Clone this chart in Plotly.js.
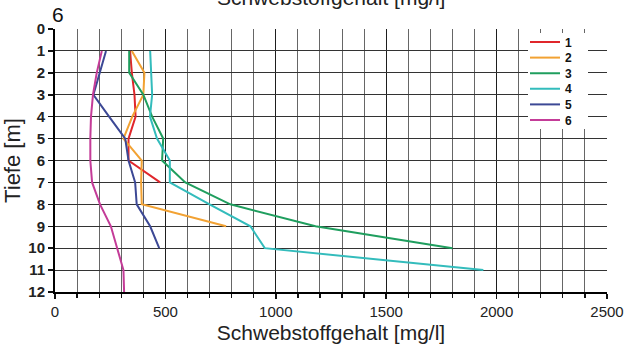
<!DOCTYPE html>
<html>
<head>
<meta charset="utf-8">
<script src="https://cdn.plot.ly/plotly-3.0.1.min.js"></script>
<style>html,body{margin:0;padding:0;background:#fff;}#chart{width:635px;height:345px;}</style>
</head>
<body>
<div id="chart"></div>
<script>
// Depth levels [m]
const depthLevels = [1, 2, 3, 4, 5, 6, 7, 8, 9, 10, 11, 12];
// Series names
const seriesNames = ["1", "2", "3", "4", "5", "6"];
// Suspended solids [mg/l] per depth level, starting at 1 m
const series1 = [340, 348, 360, 365, 333, 333, 476];
const series2 = [348, 405, 400, 350, 310, 393, 390, 393, 775];
const series3 = [336, 336, 400, 440, 490, 485, 590, 794, 1180, 1800];
const series4 = [431, 435, 440, 430, 462, 520, 520, 700, 885, 950, 1940];
const series5 = [231, 204, 174, 245, 318, 333, 363, 370, 431, 472];
const series6 = [212, 189, 172, 163, 160, 160, 168, 204, 253, 280, 310, 313];
const seriesColors = ["#e0262b", "#f2a233", "#1f9e5e", "#33bcbc", "#3c4895", "#c43c98"];
const xTicks = [0, 500, 1000, 1500, 2000, 2500];
const yTicks = [0, 1, 2, 3, 4, 5, 6, 7, 8, 9, 10, 11, 12];

const allSeries = [series1, series2, series3, series4, series5, series6];
const legendIds = ["legend", "legend2", "legend3", "legend4", "legend5", "legend6"];

const FONT = "Liberation Sans, Arial, sans-serif";
const W = 635, H = 345, ML = 55, MR = 28, MT = 29, MB = 53;
const plotW = W - ML - MR, plotH = H - MT - MB;
const px2x = p => (p - ML) / plotW;
const px2y = p => (H - MB - p) / plotH;

const traces = allSeries.map((vals, i) => ({
  type: "scatter",
  mode: "lines",
  name: seriesNames[i],
  x: vals,
  y: depthLevels.slice(0, vals.length),
  line: {color: seriesColors[i], width: 2},
  legend: legendIds[i],
  hoverinfo: "skip"
}));

const layout = {
  width: W, height: H,
  margin: {l: ML, r: MR, t: MT, b: MB, pad: 0},
  paper_bgcolor: "#ffffff",
  plot_bgcolor: "#ffffff",
  font: {family: FONT, color: "#111"},
  showlegend: true,
  xaxis: {
    range: [0, 2500],
    tickmode: "array",
    tickvals: xTicks,
    ticktext: xTicks.map(String),
    ticks: "outside", ticklen: 5, tickwidth: 1.5, tickcolor: "#111",
    tickfont: {family: FONT, size: 15, color: "#222"},
    showgrid: true, gridcolor: "#1e1e1e", gridwidth: 1,
    minor: {dtick: 100, showgrid: true, gridcolor: "#666", gridwidth: 1, ticks: "outside", ticklen: 4, tickwidth: 1.3, tickcolor: "#111"},
    showline: true, linecolor: "#000", linewidth: 2,
    zeroline: false,
    title: {text: "Schwebstoffgehalt [mg/l]", font: {family: FONT, size: 21, color: "#222"}, standoff: 6}
  },
  yaxis: {
    range: [12, 0],
    tickmode: "array",
    tickvals: yTicks,
    ticktext: yTicks.map(String),
    ticks: "outside", ticklen: 5, tickwidth: 1.5, tickcolor: "#111",
    tickfont: {family: FONT, size: 15, color: "#222", weight: "bold"},
    showgrid: true, gridcolor: "#333", gridwidth: 1,
    showline: true, linecolor: "#000", linewidth: 2,
    zeroline: false,
    title: {text: "Tiefe [m]", font: {family: FONT, size: 22, color: "#222"}, standoff: 6}
  },
  shapes: [
    {type: "rect", xref: "paper", yref: "paper", layer: "above",
     x0: px2x(528), x1: px2x(588), y0: px2y(129), y1: px2y(33),
     fillcolor: "#ffffff", line: {width: 0}}
  ],
  annotations: [
    {text: "Schwebstoffgehalt [mg/l]", xref: "paper", yref: "paper", x: 0.5, y: px2y(11),
     xanchor: "center", yanchor: "bottom", showarrow: false, font: {family: FONT, size: 21, color: "#222"}},
    {text: "6", xref: "paper", yref: "paper", x: px2x(57.5), y: px2y(15),
     xanchor: "center", yanchor: "middle", showarrow: false, font: {family: FONT, size: 21, color: "#111"}}
  ]
};

legendIds.forEach((id, i) => {
  const cy = 42 + 15.6 * i;
  layout[id] = {
    x: px2x(525), xanchor: "left",
    y: px2y(cy), yanchor: "middle",
    bgcolor: "rgba(0,0,0,0)", borderwidth: 0,
    font: {family: FONT, size: 12, color: "#111", weight: "bold"}
  };
});

Plotly.newPlot("chart", traces, layout, {staticPlot: true, displayModeBar: false});
</script>
</body>
</html>
